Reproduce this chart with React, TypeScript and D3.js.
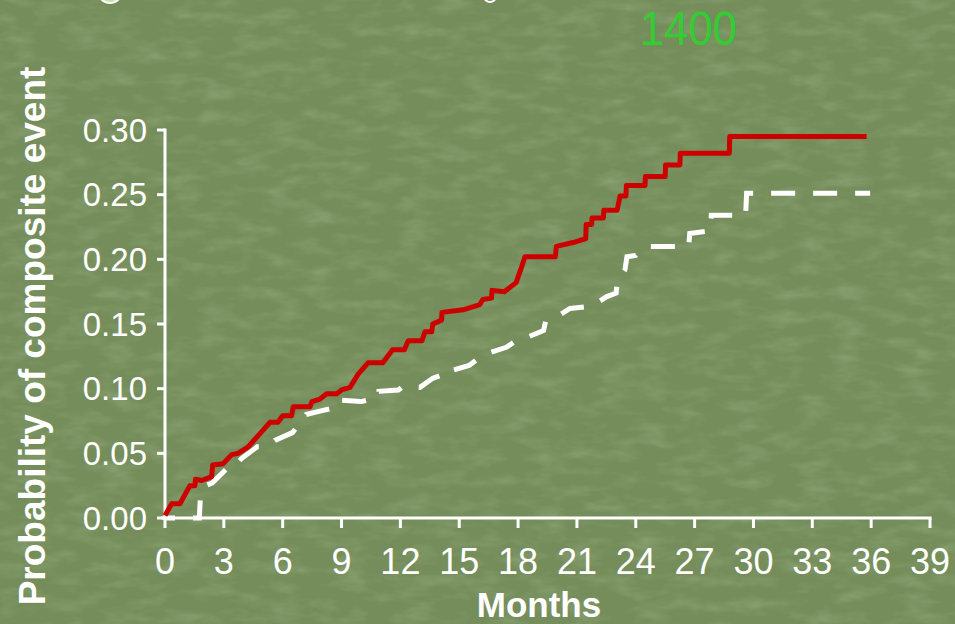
import React from "react";
import * as d3 from "d3";

const xTicks = [0, 3, 6, 9, 12, 15, 18, 21, 24, 27, 30, 33, 36, 39];
const yTicks = [0, 0.05, 0.1, 0.15, 0.2, 0.25, 0.3];

const redMonths = [0, 0.34, 0.76, 1.27, 1.53, 1.55, 1.87, 2.38, 2.43, 2.96, 3.4, 3.72, 4.24, 5.0, 5.35, 5.76, 6.0, 6.45, 6.54, 7.39, 7.49, 7.9, 8.24, 8.75, 9.0, 9.43, 9.84, 10.35, 11.1, 11.6, 12.2, 12.4, 13.1, 13.25, 13.6, 13.65, 14.1, 14.12, 15.2, 16.05, 16.2, 16.65, 16.67, 17.3, 17.9, 18.2, 18.35, 19.9, 19.95, 20.8, 21.45, 21.47, 21.75, 21.77, 22.35, 22.37, 23.05, 23.2, 23.5, 23.52, 24.47, 24.49, 25.5, 25.52, 26.25, 26.27, 28.77, 28.79, 35.77];
const redProb = [0.002, 0.011, 0.011, 0.025, 0.025, 0.03, 0.029, 0.032, 0.041, 0.042, 0.049, 0.05, 0.055, 0.068, 0.074, 0.074, 0.079, 0.079, 0.086, 0.086, 0.09, 0.092, 0.096, 0.096, 0.099, 0.101, 0.111, 0.12, 0.12, 0.13, 0.13, 0.137, 0.137, 0.144, 0.144, 0.15, 0.153, 0.159, 0.161, 0.165, 0.169, 0.17, 0.176, 0.175, 0.182, 0.195, 0.202, 0.202, 0.21, 0.213, 0.216, 0.227, 0.227, 0.232, 0.232, 0.238, 0.238, 0.249, 0.249, 0.257, 0.257, 0.264, 0.264, 0.273, 0.273, 0.282, 0.282, 0.295, 0.295];

const whiteMonths = [0, 1.75, 1.8, 2.05, 2.4, 3.2, 3.5, 3.9, 4.7, 5.2, 5.6, 6.5, 7.2, 8.0, 8.9, 9.0, 10.0, 10.85, 10.9, 11.9, 12.15, 13.0, 13.65, 14.2, 14.25, 14.6, 15.5, 16.2, 17.4, 18.1, 18.5, 19.3, 19.4, 19.9, 20.65, 21.8, 22.5, 23.0, 23.05, 23.45, 23.55, 24.0, 24.5, 26.7, 26.75, 27.8, 27.85, 29.6, 29.65, 35.95];
const whiteProb = [0, 0, 0.015, 0.025, 0.027, 0.039, 0.039, 0.046, 0.055, 0.055, 0.06, 0.066, 0.08, 0.083, 0.086, 0.091, 0.09, 0.093, 0.098, 0.099, 0.102, 0.101, 0.108, 0.111, 0.114, 0.114, 0.118, 0.126, 0.132, 0.139, 0.14, 0.145, 0.152, 0.155, 0.162, 0.164, 0.171, 0.174, 0.182, 0.192, 0.202, 0.203, 0.21, 0.21, 0.22, 0.222, 0.234, 0.234, 0.251, 0.251];

const yTitle = "Probability of composite event";
const xTitle = "Months";
const topNumber = "1400";

export default function App() {
  const W = 955;
  const H = 624;
  const x = d3.scaleLinear().domain([0, 39]).range([165, 930]);
  const y = d3.scaleLinear().domain([0, 0.3]).range([518, 130]);
  const line = d3
    .line<[number, number]>()
    .x((d) => x(d[0]))
    .y((d) => y(d[1]));
  const redPts = redMonths.map((m, i) => [m, redProb[i]] as [number, number]);
  const whitePts = whiteMonths.map((m, i) => [m, whiteProb[i]] as [number, number]);
  const font = "'Liberation Sans', Arial, Helvetica, sans-serif";

  return (
    <svg
      width={W}
      height={H}
      style={{ position: "absolute", left: 0, top: 0, display: "block" }}
      fontFamily={font}
    >
      <defs>
        <filter id="tex" x="0" y="0" width="100%" height="100%">
          <feTurbulence type="fractalNoise" baseFrequency="0.03 0.08" numOctaves="3" seed="7" result="n" />
          <feColorMatrix
            in="n"
            type="matrix"
            values="0 0 0 0 0.62  0 0 0 0 0.72  0 0 0 0 0.52  0 0 0 1.4 -0.6"
          />
        </filter>
      </defs>
      <rect x={0} y={0} width={W} height={H} fill="#748d5a" />
      <rect x={0} y={0} width={W} height={H} filter="url(#tex)" opacity={0.3} />

      {/* slide fragments at top */}
      <circle cx={110} cy={-9} r={12} fill="#c6e6a0" stroke="#ffffff" strokeWidth={2} />
      <circle cx={490} cy={-4} r={6} fill="none" stroke="#ffffff" strokeWidth={2} />

      <text
        x={640}
        y={45}
        fontSize={48}
        fill="#33cc33"
        textLength={97}
        lengthAdjust="spacingAndGlyphs"
      >
        {topNumber}
      </text>

      {/* axes */}
      <g stroke="#ffffff" strokeWidth={3} fill="none">
        <line x1={x(0)} x2={x(0)} y1={y(0.3) - 1.5} y2={y(0) + 1.5} />
        <line x1={x(0) - 4} x2={x(39) + 1.5} y1={y(0)} y2={y(0)} />
        {yTicks.map((t) => (
          <line key={"yt" + t} x1={x(0) - 8} x2={x(0)} y1={y(t)} y2={y(t)} />
        ))}
        {xTicks.map((t) => (
          <line key={"xt" + t} x1={x(t)} x2={x(t)} y1={y(0)} y2={y(0) + 10} />
        ))}
      </g>

      {yTicks.map((t) => (
        <text key={"yl" + t} x={147} y={y(t) + 11.5} fontSize={33} fill="#ffffff" textAnchor="end">
          {t.toFixed(2)}
        </text>
      ))}
      {xTicks.map((t) => (
        <text key={"xl" + t} x={x(t)} y={574} fontSize={36} fill="#ffffff" textAnchor="middle">
          {t}
        </text>
      ))}

      <text x={539} y={617} fontSize={35} fontWeight="bold" fill="#ffffff" textAnchor="middle">
        {xTitle}
      </text>
      <text
        transform="translate(45,336) rotate(-90)"
        fontSize={37}
        fontWeight="bold"
        fill="#ffffff"
        textAnchor="middle"
      >
        {yTitle}
      </text>

      <path
        d={line(whitePts) || ""}
        fill="none"
        stroke="#ffffff"
        strokeWidth={5}
        strokeDasharray="24 18"
        strokeDashoffset={14}
      />
      <path
        d={line(redPts) || ""}
        fill="none"
        stroke="#cc0000"
        strokeWidth={5}
        strokeLinejoin="round"
      />
    </svg>
  );
}
